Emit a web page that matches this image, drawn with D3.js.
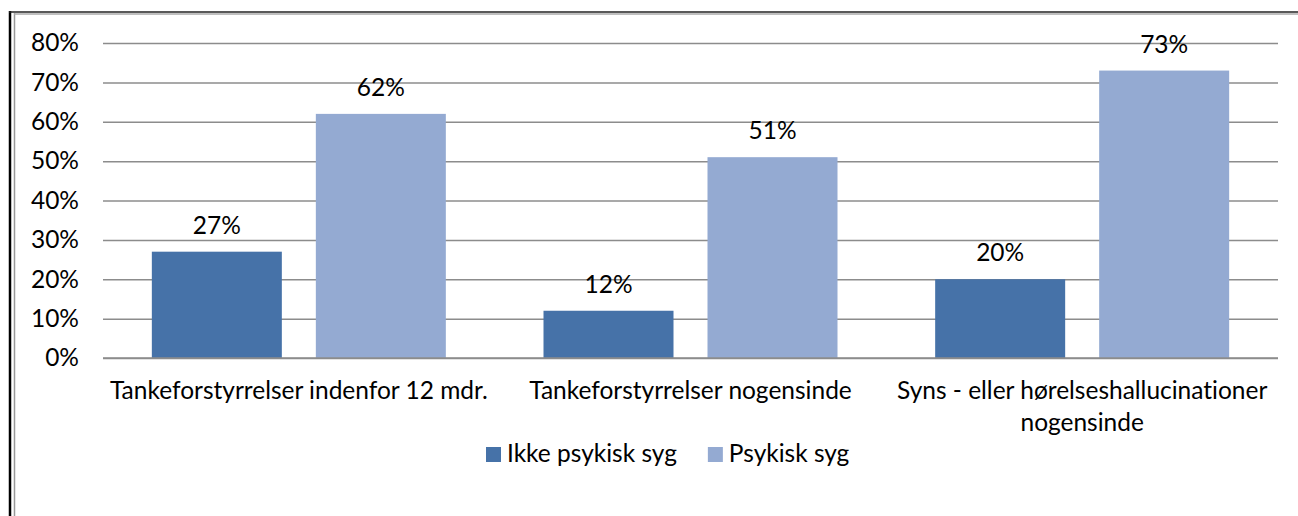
<!DOCTYPE html>
<html>
<head>
<meta charset="utf-8">
<script src="https://cdn.jsdelivr.net/npm/d3@7"></script>
<style>
  html, body { margin: 0; padding: 0; background: #fff; }
  svg { display: block; }
  text { font-variant-ligatures: none; font-feature-settings: "liga" 0; }
</style>
</head>
<body>
<svg id="chart" width="1298" height="516"></svg>
<script>
const categories = [
  "Tankeforstyrrelser indenfor 12 mdr.",
  "Tankeforstyrrelser nogensinde",
  "Syns - eller hørelseshallucinationer\nnogensinde"
];
const seriesNames = ["Ikke psykisk syg", "Psykisk syg"];
const ikkePsykiskSyg = [0.27, 0.12, 0.20];
const psykiskSyg = [0.62, 0.51, 0.73];
const yTicks = [0, 0.1, 0.2, 0.3, 0.4, 0.5, 0.6, 0.7, 0.8];
const colors = ["#4672A8", "#94AAD2"];

const svg = d3.select("#chart");
const FONT = "Lato, 'Open Sans', 'Noto Sans', sans-serif";

// pick font size so category label width matches reference
const probe = svg.append("text").attr("font-family", FONT).attr("font-size", 20).text(categories[0]);
const w20 = probe.node().getComputedTextLength();
probe.remove();
const fs = Math.max(16, Math.min(26, 20 * 378 / w20));

// frame
svg.append("line").attr("x1", 10).attr("x2", 10).attr("y1", 11).attr("y2", 516).attr("stroke", "#000").attr("stroke-width", 2.5);
svg.append("line").attr("x1", 9).attr("x2", 1298).attr("y1", 12).attr("y2", 12).attr("stroke", "#222").attr("stroke-width", 1.5);
svg.append("line").attr("x1", 14.5).attr("x2", 14.5).attr("y1", 13).attr("y2", 516).attr("stroke", "#999").attr("stroke-width", 1.5);
svg.append("line").attr("x1", 14).attr("x2", 1298).attr("y1", 14).attr("y2", 14).attr("stroke", "#aaa").attr("stroke-width", 1.5);

const x0 = d3.scaleBand().domain(categories).range([103, 1278]).paddingInner(0).paddingOuter(0);
const y = d3.scaleLinear().domain([0, 0.8]).range([358, 43]);
const bw = 130, gap = 34;

// gridlines
const yAxis = d3.axisLeft(y).tickValues(yTicks).tickSize(-(1278 - 103)).tickFormat(d3.format(".0%"));
const gy = svg.append("g").attr("transform", "translate(103,0)").call(yAxis);
gy.select(".domain").remove();
gy.selectAll(".tick line").attr("stroke", "#8c8c8c").attr("stroke-width", 1.5);
gy.selectAll(".tick text").attr("x", -24).attr("font-family", FONT).attr("font-size", fs).attr("fill", "#000");

// bars
const series = [ikkePsykiskSyg, psykiskSyg];
series.forEach((vals, si) => {
  const g = svg.append("g");
  g.selectAll("rect").data(vals).join("rect")
    .attr("x", (d, i) => x0(categories[i]) + x0.bandwidth() / 2 - (bw * 2 + gap) / 2 + si * (bw + gap))
    .attr("y", d => y(d))
    .attr("width", bw)
    .attr("height", d => y(0) - y(d))
    .attr("fill", colors[si]);
  g.selectAll("text").data(vals).join("text")
    .attr("x", (d, i) => x0(categories[i]) + x0.bandwidth() / 2 - (bw * 2 + gap) / 2 + si * (bw + gap) + bw / 2)
    .attr("y", d => y(d) - 18)
    .attr("text-anchor", "middle")
    .attr("font-family", FONT).attr("font-size", fs).attr("fill", "#000")
    .text(d => d3.format(".0%")(d));
});

// zero line redraw on top
svg.append("line").attr("x1", 103).attr("x2", 1278).attr("y1", y(0)).attr("y2", y(0)).attr("stroke", "#8c8c8c").attr("stroke-width", 1.5);

// category labels
categories.forEach(c => {
  const lines = c.split("\n");
  const t = svg.append("text")
    .attr("text-anchor", "middle")
    .attr("font-family", FONT).attr("font-size", fs).attr("fill", "#000");
  lines.forEach((ln, i) => {
    t.append("tspan").attr("x", x0(c) + x0.bandwidth() / 2).attr("y", 399 + i * 32).text(ln);
  });
});

// legend
const legend = svg.append("g");
let lx = 486;
seriesNames.forEach((n, i) => {
  legend.append("rect").attr("x", lx).attr("y", 447).attr("width", 15).attr("height", 15).attr("fill", colors[i]);
  const t = legend.append("text").attr("x", lx + 21).attr("y", 462)
    .attr("font-family", FONT).attr("font-size", fs).attr("fill", "#000").text(n);
  lx += 21 + t.node().getComputedTextLength() + 31;
});
</script>
</body>
</html>
